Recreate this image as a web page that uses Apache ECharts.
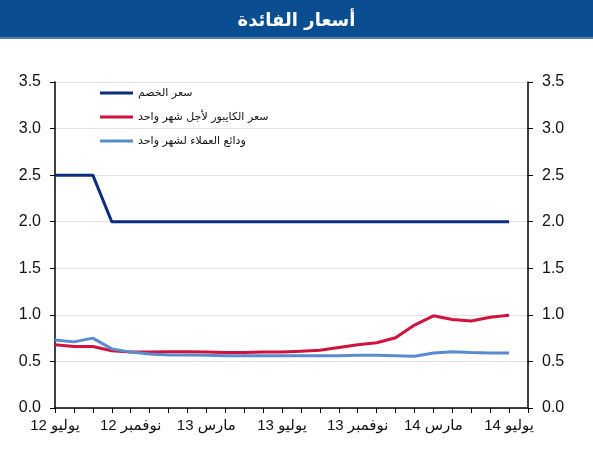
<!DOCTYPE html>
<head>
    <meta charset="utf-8">
    <title>أسعار الفائدة</title>
    <script type="text/javascript" src="https://cdn.jsdelivr.net/npm/echarts@6/dist/echarts.min.js"></script>
    <style>
        html, body { margin: 0; padding: 0; background: #fff; }
    </style>
</head>

<body>
<div id="main" style="width:593px;height:450px"></div>

<script type="text/javascript">

    // الأشهر من يوليو 2012 إلى يوليو 2014 (مع خانة فارغة في النهاية)
    var months = ['يوليو 12', 'أغسطس 12', 'سبتمبر 12', 'أكتوبر 12', 'نوفمبر 12', 'ديسمبر 12',
                  'يناير 13', 'فبراير 13', 'مارس 13', 'أبريل 13', 'مايو 13', 'يونيو 13',
                  'يوليو 13', 'أغسطس 13', 'سبتمبر 13', 'أكتوبر 13', 'نوفمبر 13', 'ديسمبر 13',
                  'يناير 14', 'فبراير 14', 'مارس 14', 'أبريل 14', 'مايو 14', 'يونيو 14',
                  'يوليو 14', ''];

    var seriesNames = ['سعر الخصم', 'سعر الكايبور لأجل شهر واحد', 'ودائع العملاء لشهر واحد'];

    var discountRate = [2.5, 2.5, 2.5, 2.0, 2.0, 2.0, 2.0, 2.0, 2.0, 2.0, 2.0, 2.0, 2.0,
                        2.0, 2.0, 2.0, 2.0, 2.0, 2.0, 2.0, 2.0, 2.0, 2.0, 2.0, 2.0];

    var cibor1m = [0.68, 0.66, 0.66, 0.615, 0.60, 0.60, 0.605, 0.605, 0.60, 0.595, 0.595, 0.60, 0.60,
                   0.61, 0.62, 0.65, 0.68, 0.70, 0.755, 0.89, 0.99, 0.95, 0.935, 0.975, 0.995];

    var deposits1m = [0.73, 0.71, 0.75, 0.635, 0.60, 0.58, 0.57, 0.57, 0.565, 0.56, 0.56, 0.56, 0.56,
                      0.56, 0.56, 0.56, 0.565, 0.565, 0.56, 0.555, 0.59, 0.605, 0.595, 0.59, 0.59];

    var colors = ['#0B2D7F', '#D2123C', '#5B8BCF'];

    var myChart = echarts.init(document.getElementById('main'));

    var yAxisBase = {
        type: 'value',
        min: 0,
        max: 3.5,
        interval: 0.5,
        axisLine: { show: true, lineStyle: { color: '#000', width: 1.5 } },
        axisTick: { show: true, length: 5, lineStyle: { color: '#000' } },
        axisLabel: {
            color: '#111',
            fontSize: 16,
            fontFamily: 'Liberation Sans, Arial, sans-serif',
            margin: 14,
            formatter: function (v) { return v.toFixed(1); }
        }
    };

    var option = {
        animation: false,
        color: colors,
        title: {
            text: 'أسعار الفائدة',
            left: 'center',
            top: 7,
            textStyle: {
                color: '#fff',
                fontSize: 18,
                fontWeight: 'bold',
                fontFamily: 'DejaVu Sans, sans-serif'
            }
        },
        graphic: [
            { type: 'rect', z: -1, shape: { x: 0, y: 0, width: 593, height: 37 }, style: { fill: '#0B4D91' } },
            { type: 'rect', z: -1, shape: { x: 0, y: 37, width: 593, height: 2 }, style: { fill: '#4F7FB5' } }
        ],
        legend: {
            orient: 'vertical',
            left: 95,
            top: 81,
            itemWidth: 33,
            itemHeight: 3,
            itemGap: 10,
            icon: 'rect',
            data: seriesNames,
            textStyle: {
                color: '#111',
                fontSize: 11,
                lineHeight: 14,
                fontFamily: 'DejaVu Sans, sans-serif'
            }
        },
        grid: {
            left: 55,
            right: 65,
            top: 82,
            bottom: 42
        },
        xAxis: [
            {
                type: 'category',
                data: months,
                boundaryGap: false,
                axisLine: { lineStyle: { color: '#000', width: 1.5 } },
                axisTick: { show: true, interval: 0, length: 5, lineStyle: { color: '#000' } },
                axisLabel: {
                    interval: 3,
                    color: '#111',
                    fontSize: 15,
                    margin: 10,
                    fontFamily: 'Liberation Sans, DejaVu Sans, sans-serif'
                },
                splitLine: { show: false }
            }
        ],
        yAxis: [
            Object.assign({}, yAxisBase, {
                position: 'left',
                splitLine: { show: true, lineStyle: { color: '#E3E3E3', width: 1 } }
            }),
            Object.assign({}, yAxisBase, {
                position: 'right',
                splitLine: { show: false }
            })
        ],
        series: [
            { name: seriesNames[0], type: 'line', data: discountRate, showSymbol: false, lineStyle: { width: 3 } },
            { name: seriesNames[1], type: 'line', data: cibor1m, showSymbol: false, lineStyle: { width: 3 } },
            { name: seriesNames[2], type: 'line', data: deposits1m, showSymbol: false, lineStyle: { width: 3 } }
        ]
    };

    myChart.setOption(option);

</script>
</body>
